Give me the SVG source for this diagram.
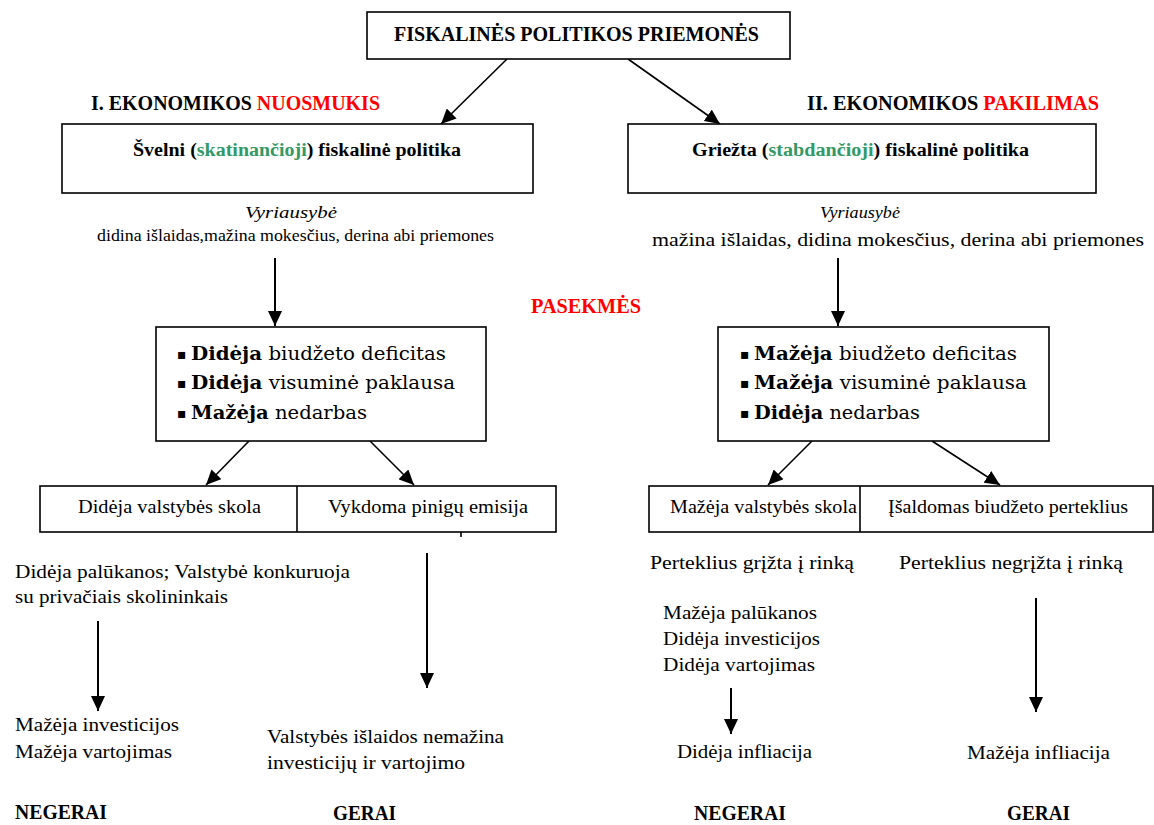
<svg xmlns="http://www.w3.org/2000/svg" width="1154" height="825" viewBox="0 0 1154 825">
<style>
.box{fill:#fff;stroke:#000;stroke-width:1.6}
.ln{stroke:#000;stroke-width:1.6;fill:none}
.vl{stroke:#000;stroke-width:2;fill:none}
.tx{font-family:"Liberation Serif","DejaVu Serif",serif;font-size:19px;fill:#000}
.bd{font-family:"Liberation Serif","DejaVu Serif",serif;font-size:20px;font-weight:bold;fill:#000}
.sb{font-family:"Liberation Serif","DejaVu Serif",serif;font-size:18px;font-weight:bold;fill:#000}
.it{font-family:"Liberation Serif","DejaVu Serif",serif;font-size:17px;font-style:italic;fill:#000}
.sm{font-family:"Liberation Serif","DejaVu Serif",serif;font-size:17px;fill:#000}
.ef{font-family:"DejaVu Serif",serif;font-size:18px;fill:#000}
.bul{font-family:"DejaVu Sans",sans-serif;font-size:14px;fill:#000}
.red{fill:#ff0000}
.grn{fill:#339966}
</style>
<defs>
<marker id="ah" markerUnits="userSpaceOnUse" markerWidth="16" markerHeight="14" refX="15" refY="7" orient="auto">
<path d="M0,0 L15,7 L0,14 z" fill="#000"/>
</marker>
</defs>
<rect width="1154" height="825" fill="#fff"/>

<g id="connectors">
<line class="ln" x1="507" y1="59" x2="441" y2="124" marker-end="url(#ah)"/>
<line class="ln" x1="628" y1="59" x2="720" y2="124" marker-end="url(#ah)"/>
<line class="vl" x1="275" y1="258" x2="275" y2="326" marker-end="url(#ah)"/>
<line class="vl" x1="838" y1="258" x2="838" y2="326" marker-end="url(#ah)"/>
<line class="ln" x1="249" y1="441" x2="206" y2="485" marker-end="url(#ah)"/>
<line class="ln" x1="370" y1="441" x2="414" y2="485" marker-end="url(#ah)"/>
<line class="ln" x1="812" y1="441" x2="768" y2="485" marker-end="url(#ah)"/>
<line class="ln" x1="932" y1="441" x2="1000" y2="485" marker-end="url(#ah)"/>
<line class="vl" x1="98" y1="621" x2="98" y2="711" marker-end="url(#ah)"/>
<line class="vl" x1="427" y1="553" x2="427" y2="688" marker-end="url(#ah)"/>
<line class="vl" x1="731" y1="688" x2="731" y2="734" marker-end="url(#ah)"/>
<line class="vl" x1="1036" y1="598" x2="1036" y2="712" marker-end="url(#ah)"/>
<line class="ln" x1="461" y1="532" x2="461" y2="537"/>
</g>

<g id="title">
<rect class="box" x="367" y="12" width="423" height="47"/>
<text class="bd" x="394" y="41" textLength="365" lengthAdjust="spacingAndGlyphs">FISKALINĖS POLITIKOS PRIEMONĖS</text>
</g>

<g id="heading-left">
<text class="bd" x="91" y="110" textLength="289" lengthAdjust="spacingAndGlyphs">I. EKONOMIKOS <tspan class="red">NUOSMUKIS</tspan></text>
</g>
<g id="heading-right">
<text class="bd" x="807" y="110" textLength="292" lengthAdjust="spacingAndGlyphs">II. EKONOMIKOS <tspan class="red">PAKILIMAS</tspan></text>
</g>

<g id="policy-left">
<rect class="box" x="62" y="124" width="471" height="69"/>
<text class="sb" x="133" y="156" textLength="328" lengthAdjust="spacingAndGlyphs">Švelni (<tspan class="grn">skatinančioji</tspan>) fiskalinė politika</text>
</g>
<g id="policy-right">
<rect class="box" x="628" y="124" width="468" height="69"/>
<text class="sb" x="692" y="156" textLength="337" lengthAdjust="spacingAndGlyphs">Griežta (<tspan class="grn">stabdančioji</tspan>) fiskalinė politika</text>
</g>

<g id="gov-left">
<text class="it" x="245" y="218" textLength="92" lengthAdjust="spacingAndGlyphs">Vyriausybė</text>
<text class="sm" x="97" y="241" textLength="397" lengthAdjust="spacingAndGlyphs">didina išlaidas,mažina mokesčius,  derina abi priemones</text>
</g>
<g id="gov-right">
<text class="it" x="820" y="218" textLength="80" lengthAdjust="spacingAndGlyphs">Vyriausybė</text>
<text class="tx" x="652" y="246" textLength="492" lengthAdjust="spacingAndGlyphs">mažina išlaidas, didina mokesčius, derina abi priemones</text>
</g>

<g id="pasekmes">
<text class="bd red" x="531" y="313" textLength="110" lengthAdjust="spacingAndGlyphs">PASEKMĖS</text>
</g>

<g id="effects-left">
<rect class="box" x="156" y="327" width="330" height="114"/>
<text class="bul" x="177" y="359">▪</text>
<text class="bul" x="177" y="388">▪</text>
<text class="bul" x="177" y="418">▪</text>
<text class="ef" x="191" y="360" textLength="255" lengthAdjust="spacingAndGlyphs"><tspan font-weight="bold">Didėja</tspan> biudžeto deficitas</text>
<text class="ef" x="191" y="389" textLength="264" lengthAdjust="spacingAndGlyphs"><tspan font-weight="bold">Didėja</tspan> visuminė paklausa</text>
<text class="ef" x="191" y="419" textLength="176" lengthAdjust="spacingAndGlyphs"><tspan font-weight="bold">Mažėja</tspan> nedarbas</text>
</g>
<g id="effects-right">
<rect class="box" x="718" y="327" width="331" height="114"/>
<text class="bul" x="740" y="359">▪</text>
<text class="bul" x="740" y="388">▪</text>
<text class="bul" x="740" y="418">▪</text>
<text class="ef" x="754" y="360" textLength="263" lengthAdjust="spacingAndGlyphs"><tspan font-weight="bold">Mažėja</tspan> biudžeto deficitas</text>
<text class="ef" x="754" y="389" textLength="273" lengthAdjust="spacingAndGlyphs"><tspan font-weight="bold">Mažėja</tspan> visuminė paklausa</text>
<text class="ef" x="754" y="419" textLength="166" lengthAdjust="spacingAndGlyphs"><tspan font-weight="bold">Didėja</tspan> nedarbas</text>
</g>

<g id="split-left">
<rect class="box" x="40" y="486" width="516" height="46"/>
<line class="ln" x1="297" y1="486" x2="297" y2="532"/>
<text class="tx" x="78" y="513" textLength="183" lengthAdjust="spacingAndGlyphs">Didėja valstybės skola</text>
<text class="tx" x="328" y="513" textLength="200" lengthAdjust="spacingAndGlyphs">Vykdoma pinigų emisija</text>
</g>
<g id="split-right">
<rect class="box" x="649" y="486" width="504" height="46"/>
<line class="ln" x1="860" y1="486" x2="860" y2="532"/>
<text class="tx" x="670" y="513" textLength="187" lengthAdjust="spacingAndGlyphs">Mažėja valstybės skola</text>
<text class="tx" x="888" y="513" textLength="240" lengthAdjust="spacingAndGlyphs">Įšaldomas biudžeto perteklius</text>
</g>

<g id="debt-left">
<text class="tx" x="15" y="578" textLength="335" lengthAdjust="spacingAndGlyphs">Didėja palūkanos; Valstybė konkuruoja</text>
<text class="tx" x="15" y="603" textLength="213" lengthAdjust="spacingAndGlyphs">su privačiais skolininkais</text>
</g>
<g id="result-1">
<text class="tx" x="15" y="731" textLength="164" lengthAdjust="spacingAndGlyphs">Mažėja investicijos</text>
<text class="tx" x="15" y="758" textLength="157" lengthAdjust="spacingAndGlyphs">Mažėja vartojimas</text>
<text class="bd" x="15" y="819" textLength="92" lengthAdjust="spacingAndGlyphs">NEGERAI</text>
</g>
<g id="result-2">
<text class="tx" x="267" y="743" textLength="237" lengthAdjust="spacingAndGlyphs">Valstybės išlaidos nemažina</text>
<text class="tx" x="267" y="769" textLength="198" lengthAdjust="spacingAndGlyphs">investicijų ir vartojimo</text>
<text class="bd" x="333" y="820" textLength="63" lengthAdjust="spacingAndGlyphs">GERAI</text>
</g>
<g id="surplus-1">
<text class="tx" x="650" y="569" textLength="204" lengthAdjust="spacingAndGlyphs">Perteklius grįžta į rinką</text>
<text class="tx" x="663" y="619" textLength="154" lengthAdjust="spacingAndGlyphs">Mažėja palūkanos</text>
<text class="tx" x="663" y="645" textLength="157" lengthAdjust="spacingAndGlyphs">Didėja investicijos</text>
<text class="tx" x="663" y="671" textLength="152" lengthAdjust="spacingAndGlyphs">Didėja vartojimas</text>
</g>
<g id="result-3">
<text class="tx" x="677" y="758" textLength="135" lengthAdjust="spacingAndGlyphs">Didėja infliacija</text>
<text class="bd" x="694" y="820" textLength="92" lengthAdjust="spacingAndGlyphs">NEGERAI</text>
</g>
<g id="surplus-2">
<text class="tx" x="899" y="569" textLength="224" lengthAdjust="spacingAndGlyphs">Perteklius negrįžta į rinką</text>
</g>
<g id="result-4">
<text class="tx" x="967" y="759" textLength="143" lengthAdjust="spacingAndGlyphs">Mažėja infliacija</text>
<text class="bd" x="1007" y="820" textLength="63" lengthAdjust="spacingAndGlyphs">GERAI</text>
</g>
</svg>
